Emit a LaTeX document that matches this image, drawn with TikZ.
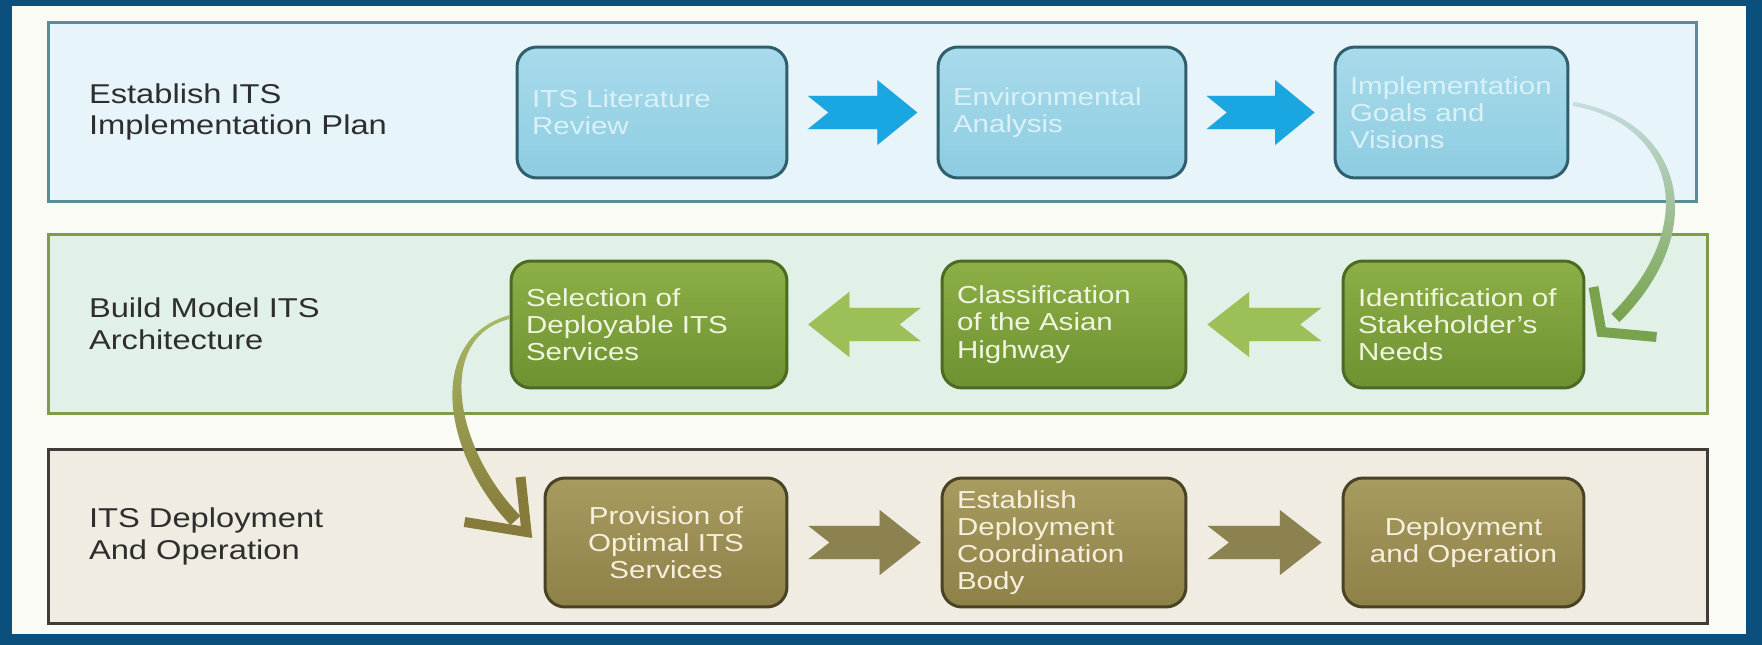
\documentclass[tikz,border=0pt]{standalone}
\usepackage{fontspec}
\setmainfont{Liberation Sans}[FakeStretch=1.2]
\usepackage{tikz}
\usetikzlibrary{calc}
\definecolor{cadre}{HTML}{0B4F7C}
\definecolor{papier}{HTML}{FBFBF6}
\definecolor{fondbleu}{HTML}{E7F4FA}
\definecolor{bordbleu}{HTML}{5A8C96}
\definecolor{fondvert}{HTML}{E2F1E8}
\definecolor{bordvert}{HTML}{7F9B4A}
\definecolor{fondkaki}{HTML}{F0ECE1}
\definecolor{bordkaki}{HTML}{3E3D38}
\definecolor{titregris}{HTML}{2E2E2E}
\definecolor{bleuhaut}{HTML}{A8DBEB}
\definecolor{bleubas}{HTML}{8ECCE1}
\definecolor{traitbleu}{HTML}{2F5F6D}
\definecolor{textebleu}{HTML}{D9F0F7}
\definecolor{verthaut}{HTML}{8DAF47}
\definecolor{vertbas}{HTML}{6E9131}
\definecolor{traitvert}{HTML}{4D6A22}
\definecolor{textevert}{HTML}{EFF5DF}
\definecolor{kakihaut}{HTML}{A79B60}
\definecolor{kakibas}{HTML}{8E8148}
\definecolor{traitkaki}{HTML}{4A4225}
\definecolor{textekaki}{HTML}{F5EFDC}
\definecolor{flechebleu}{HTML}{1AA6E0}
\definecolor{flechevert}{HTML}{9DBF58}
\definecolor{flechekaki}{HTML}{8C8250}
\definecolor{ombre}{HTML}{C9C9C4}
\definecolor{courbeAhaut}{HTML}{C4DDDE}
\definecolor{courbeAbas}{HTML}{78A24C}
\definecolor{courbeBhaut}{HTML}{A8B865}
\definecolor{courbeBbas}{HTML}{867B3A}

% grosse fleche entre deux etapes
\newcommand\flecheplate[3]{%
  \path[#3] let \p1=(#1), \p2=(#2) in
    ({\x1+0.13*(\x2-\x1)},{\y1+9.5pt}) -- ({\x1+0.27*(\x2-\x1)},{\y1})
    -- ({\x1+0.13*(\x2-\x1)},{\y1-9.5pt}) -- ({\x1+0.6*(\x2-\x1)},{\y1-9.5pt})
    -- ({\x1+0.6*(\x2-\x1)},{\y1-18.5pt}) -- ({\x1+0.87*(\x2-\x1)},{\y1})
    -- ({\x1+0.6*(\x2-\x1)},{\y1+18.5pt}) -- ({\x1+0.6*(\x2-\x1)},{\y1+9.5pt}) -- cycle;
}

\begin{document}
\begin{tikzpicture}[x=0.02cm, y=-0.02cm]
        % Définition des styles
        \tikzset{
            panneau/.style n args={2}{rectangle, draw=#1, fill=#2, line width=0.06cm,
                         minimum height=3.6cm, inner sep=0pt},
            titre/.style={anchor=west, align=left, text=titregris, inner sep=0pt,
                         font=\fontsize{15.5}{18}\selectfont},
            etape/.style={rectangle, rounded corners=0.4cm, line width=0.06cm, align=left,
                         inner xsep=0.3cm, inner ysep=0pt, font=\fontsize{14}{15.5}\selectfont},
            bleu/.style={etape, draw=traitbleu, top color=bleuhaut, bottom color=bleubas,
                         text=textebleu, minimum height=2.62cm},
            vert/.style={etape, draw=traitvert, top color=verthaut, bottom color=vertbas,
                         text=textevert, minimum height=2.54cm},
            kaki/.style={etape, draw=traitkaki, top color=kakihaut, bottom color=kakibas,
                         text=textekaki, minimum height=2.58cm},
            tete/.style={line width=0.2cm, line join=miter}
        }

        % Fond et cadre
        \fill[cadre] (0,0) rectangle (1762,645);
        \fill[papier] (12,6) rectangle (1746,634);
        \useasboundingbox (0,0) rectangle (1762,645);

        % Panneaux
        \node[panneau={bordbleu}{fondbleu}, minimum width=32.98cm] (plan) at (872.5,112) {};
        \node[panneau={bordvert}{fondvert}, minimum width=33.2cm] (archi) at (878,324) {};
        \node[panneau={bordkaki}{fondkaki}, minimum width=33.2cm, minimum height=3.5cm] (deploi) at (878,536.5) {};

        \node[titre] (tplan) at ($(plan.west)+(42,0)$) {Establish ITS\\Implementation Plan};
        \node[titre] (tarchi) at ($(archi.west)+(42,0)$) {Build Model ITS\\Architecture};
        \node[titre] (tdeploi) at ($(deploi.west)+(42,0)$) {ITS Deployment\\And Operation};

        % Etapes
        \node[bleu, text width=4.8cm] (litt) at (652,112.5) {ITS Literature\\Review};
        \node[bleu, text width=4.36cm] (env) at (1062,112.5) {Environmental\\Analysis};
        \node[bleu, text width=4.06cm] (buts) at (1451.5,112.5) {Implementation\\Goals and\\Visions};

        \node[vert, text width=4.92cm] (sel) at (649,324.5) {Selection of\\Deployable ITS\\Services};
        \node[vert, text width=4.28cm] (cls) at (1064,324.5) {Classification\\of the Asian\\Highway};
        \node[vert, text width=4.22cm] (ident) at (1463.5,324.5) {Identification of\\Stakeholder's\\Needs};

        \node[kaki, text width=4.24cm, align=center] (prov) at (666,542.5) {Provision of\\Optimal ITS\\Services};
        \node[kaki, text width=4.28cm] (estab) at (1064,542.5) {Establish\\Deployment\\Coordination\\Body};
        \node[kaki, text width=4.22cm, align=center] (depl) at (1463.5,542.5) {Deployment\\and Operation};

        % Connexions
        \flecheplate{litt.east}{env.west}{fill=ombre, xshift=1.5pt, yshift=-2pt}
        \flecheplate{litt.east}{env.west}{fill=flechebleu}
        \flecheplate{env.east}{buts.west}{fill=ombre, xshift=1.5pt, yshift=-2pt}
        \flecheplate{env.east}{buts.west}{fill=flechebleu}

        \flecheplate{ident.west}{cls.east}{fill=ombre, xshift=1.5pt, yshift=-2pt}
        \flecheplate{ident.west}{cls.east}{fill=flechevert}
        \flecheplate{cls.west}{sel.east}{fill=ombre, xshift=1.5pt, yshift=-2pt}
        \flecheplate{cls.west}{sel.east}{fill=flechevert}

        \flecheplate{prov.east}{estab.west}{fill=ombre, xshift=1.5pt, yshift=-2pt}
        \flecheplate{prov.east}{estab.west}{fill=flechekaki}
        \flecheplate{estab.east}{depl.west}{fill=ombre, xshift=1.5pt, yshift=-2pt}
        \flecheplate{estab.east}{depl.west}{fill=flechekaki}

        % Fleches courbes entre panneaux
        \path[top color=courbeAhaut, bottom color=courbeAbas]
            ($(buts.east)+(4,-10.5)$) .. controls +(108,18) and +(94,-94) .. ($(ident.east)+(34,-2.5)$)
            -- ($(ident.east)+(26,-10.5)$) .. controls +(90,-90) and +(100,18) .. ($(buts.east)+(4,-6.5)$) -- cycle;
        \draw[tete, courbeAbas] ($(ident.east)+(8,-37.5)$) -- ($(ident.east)+(16,7.5)$) -- ($(ident.east)+(71,12.5)$);

        \path[top color=courbeBhaut, bottom color=courbeBbas]
            ($(sel.west)+(0,-9.5)$) .. controls +(-86,25) and +(-67,-70) .. ($(prov.west)+(-33,-17.5)$)
            -- ($(prov.west)+(-23,-26.5)$) .. controls +(-65,-66) and +(-76,19) .. ($(sel.west)+(0,-5.5)$) -- cycle;
        \draw[tete, courbeBbas] ($(prov.west)+(-23,-65.5)$) -- ($(prov.west)+(-17,-10.5)$) -- ($(prov.west)+(-79,-20.5)$);
\end{tikzpicture}
\end{document}
